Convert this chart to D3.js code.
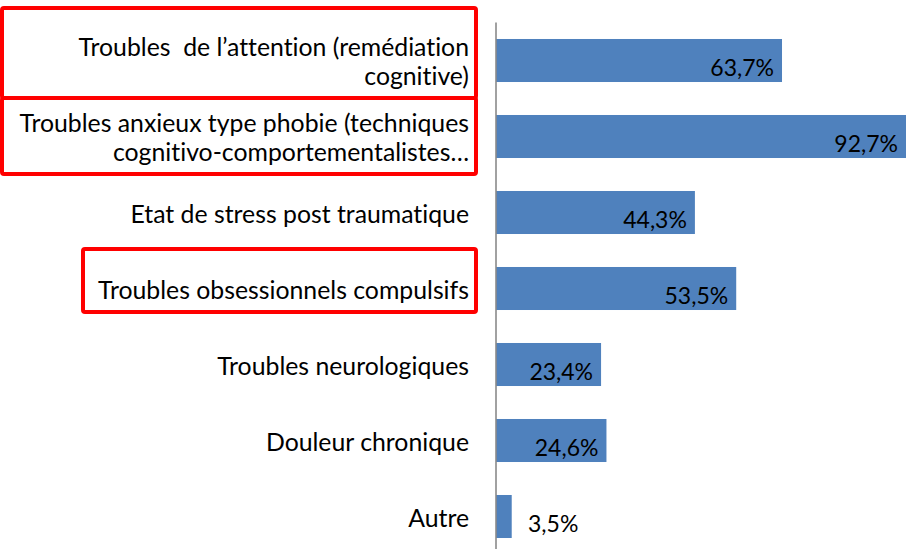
<!DOCTYPE html>
<html><head><meta charset="utf-8">
<script src="https://cdn.jsdelivr.net/npm/d3@7"></script>
<style>
html,body{margin:0;padding:0;background:#fff;}
svg{display:block;}
text{font-family:Lato,"Open Sans",sans-serif;fill:#000;font-variant-ligatures:none;font-feature-settings:"liga" 0,"clig" 0;}
</style></head>
<body>
<svg id="chart" width="906" height="549"></svg>
<script>
const categories = [
  "Troubles  de l’attention (remédiation|cognitive)",
  "Troubles anxieux type phobie (techniques|cognitivo-comportementalistes…",
  "Etat de stress post traumatique",
  "Troubles obsessionnels compulsifs",
  "Troubles neurologiques",
  "Douleur chronique",
  "Autre"
];
const values = [63.7, 92.7, 44.3, 53.5, 23.4, 24.6, 3.5];
const valueLabels = ["63,7%", "92,7%", "44,3%", "53,5%", "23,4%", "24,6%", "3,5%"];

const W = 906, H = 549;
const x0 = 496;
const svg = d3.select("#chart");

const x = d3.scaleLinear().domain([0, 100]).range([x0, x0 + 449]);
const y = d3.scaleBand().domain(d3.range(categories.length)).range([22.5, 554.5]).paddingInner(0.434).paddingOuter(0.217);

const fsVal = 23;
const fsCat = 24.8;

// bars
svg.selectAll("rect.bar").data(values).join("rect")
  .attr("class", "bar")
  .attr("x", x(0))
  .attr("y", (d, i) => y(i))
  .attr("width", d => x(d) - x(0))
  .attr("height", y.bandwidth())
  .attr("fill", "#4F81BD");

// axis line
svg.append("line").attr("x1", x0).attr("x2", x0).attr("y1", 22.5).attr("y2", H)
  .attr("stroke", "#8a8a8a").attr("stroke-width", 1.6);

// value labels
svg.selectAll("text.val").data(values).join("text")
  .attr("class", "val")
  .attr("font-size", fsVal)
  .attr("dominant-baseline", "central")
  .attr("y", (d, i) => y(i) + y.bandwidth() / 2 + 6)
  .text((d, i) => valueLabels[i])
  .each(function(d) {
    const w = this.getComputedTextLength();
    const right = Math.min(W - 8, Math.max(x(d) - 8, x0 + 32 + w));
    d3.select(this).attr("x", right).attr("text-anchor", "end");
  });

// category labels
const lineH = 29;
categories.forEach((c, i) => {
  const lines = c.split("|");
  const cy = y(i) + y.bandwidth() / 2;
  const t = svg.append("text").attr("font-size", fsCat).attr("text-anchor", "end")
    .attr("dominant-baseline", "central");
  lines.forEach((l, j) => {
    t.append("tspan").attr("x", 469)
      .attr("y", cy + (j - (lines.length - 1) / 2) * lineH)
      .attr("xml:space", "preserve")
      .text(l);
  });
});

// highlight boxes (annotations)
const boxes = [
  {i: 0, x1: 2, x2: 476, top: -52.5, bottom: 37.5},
  {i: 1, x1: 2, x2: 476, top: -38.5, bottom: 37.5},
  {i: 3, x1: 83, x2: 476, top: -39.5, bottom: 23.5}
];
svg.selectAll("rect.hl").data(boxes).join("rect")
  .attr("class", "hl")
  .attr("x", d => d.x1)
  .attr("y", d => y(d.i) + y.bandwidth() / 2 + d.top)
  .attr("width", d => d.x2 - d.x1)
  .attr("height", d => d.bottom - d.top)
  .attr("rx", 2)
  .attr("fill", "none").attr("stroke", "#ff0000").attr("stroke-width", 4);
</script>
</body></html>
